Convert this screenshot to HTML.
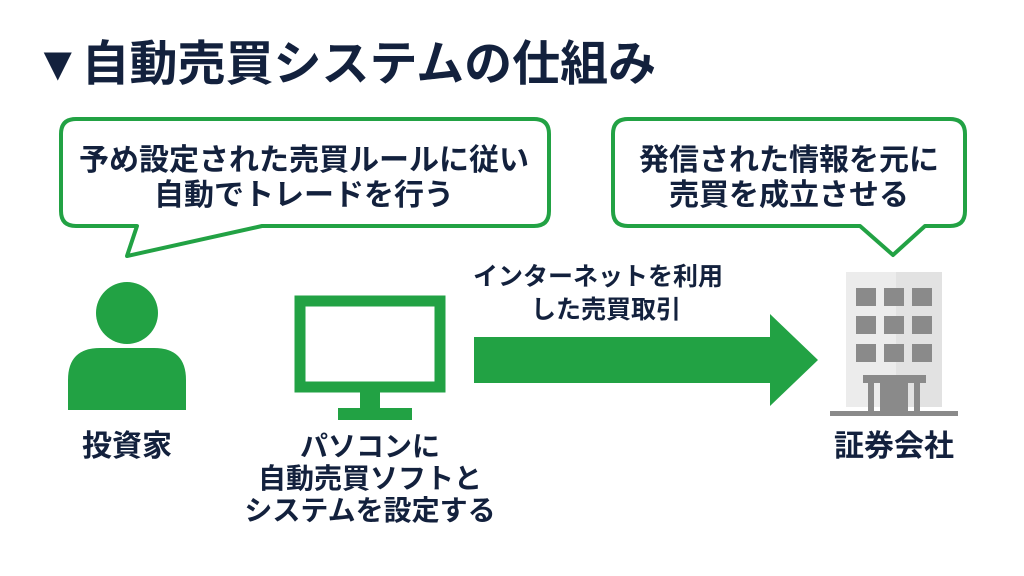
<!DOCTYPE html>
<html><head><meta charset="utf-8"><style>
html,body{margin:0;padding:0;background:#fff;}
svg text{font-family:"Liberation Sans","Noto Sans CJK JP",sans-serif;font-weight:700;fill:#13213d;}
</style></head><body>
<svg width="1024" height="571" viewBox="0 0 1024 571" xmlns="http://www.w3.org/2000/svg">
<rect width="1024" height="571" fill="#fff"/>
<text x="34" y="80" font-size="48">▼自動売買システムの仕組み</text>
<!-- bubble 1 -->
<path d="M76,119 H534 Q549,119 549,134 V211 Q549,226 534,226 H262 L127,256 L137,226 H76 Q61,226 61,211 V134 Q61,119 76,119 Z" fill="#fff" stroke="#22a244" stroke-width="4" stroke-linejoin="round"/>
<text x="304" y="170" font-size="30" text-anchor="middle">予め設定された売買ルールに従い</text>
<text x="304" y="205" font-size="30" text-anchor="middle">自動でトレードを行う</text>
<!-- bubble 2 -->
<path d="M628,119 H950 Q965,119 965,134 V211 Q965,226 950,226 H925 L893,255 L860,226 H628 Q613,226 613,211 V134 Q613,119 628,119 Z" fill="#fff" stroke="#22a244" stroke-width="4" stroke-linejoin="round"/>
<text x="789" y="170" font-size="30" text-anchor="middle">発信された情報を元に</text>
<text x="789" y="205" font-size="30" text-anchor="middle">売買を成立させる</text>
<!-- person -->
<circle cx="127" cy="313" r="31" fill="#22a244"/>
<path d="M68,410 V380 Q68,348 100,348 H154 Q186,348 186,380 V410 Z" fill="#22a244"/>
<text x="127" y="456" font-size="30" text-anchor="middle">投資家</text>
<!-- monitor -->
<rect x="300" y="301" width="140" height="86" fill="none" stroke="#22a244" stroke-width="11"/>
<rect x="360" y="392" width="20" height="18" fill="#22a244"/>
<rect x="338" y="408" width="74" height="12" fill="#22a244"/>
<text x="370" y="456" font-size="28" text-anchor="middle">パソコンに</text>
<text x="370" y="488" font-size="28" text-anchor="middle">自動売買ソフトと</text>
<text x="370" y="520" font-size="28" text-anchor="middle">システムを設定する</text>
<!-- arrow -->
<path d="M474,337 H770 V314 L818,360 L770,406 V383 H474 Z" fill="#22a244"/>
<text x="598" y="285" font-size="25" text-anchor="middle">インターネットを利用</text>
<text x="606" y="318" font-size="25" text-anchor="middle">した売買取引</text>
<!-- building -->
<rect x="846" y="272" width="50" height="135" fill="#ececec"/>
<rect x="896" y="272" width="46" height="135" fill="#e2e2e2"/>
<g fill="#8a8a8a">
<rect x="856" y="288" width="20" height="18"/><rect x="884" y="288" width="20" height="18"/><rect x="912" y="288" width="20" height="18"/>
<rect x="856" y="316" width="20" height="18"/><rect x="884" y="316" width="20" height="18"/><rect x="912" y="316" width="20" height="18"/>
<rect x="856" y="344" width="20" height="18"/><rect x="884" y="344" width="20" height="18"/><rect x="912" y="344" width="20" height="18"/>
<rect x="863" y="375" width="63" height="8"/>
<rect x="868" y="383" width="6" height="28"/><rect x="880" y="383" width="28" height="28"/><rect x="914" y="383" width="6" height="28"/>
<rect x="830" y="411" width="128" height="5"/>
</g>
<text x="894" y="456" font-size="30" text-anchor="middle">証券会社</text>
</svg>
</body></html>
